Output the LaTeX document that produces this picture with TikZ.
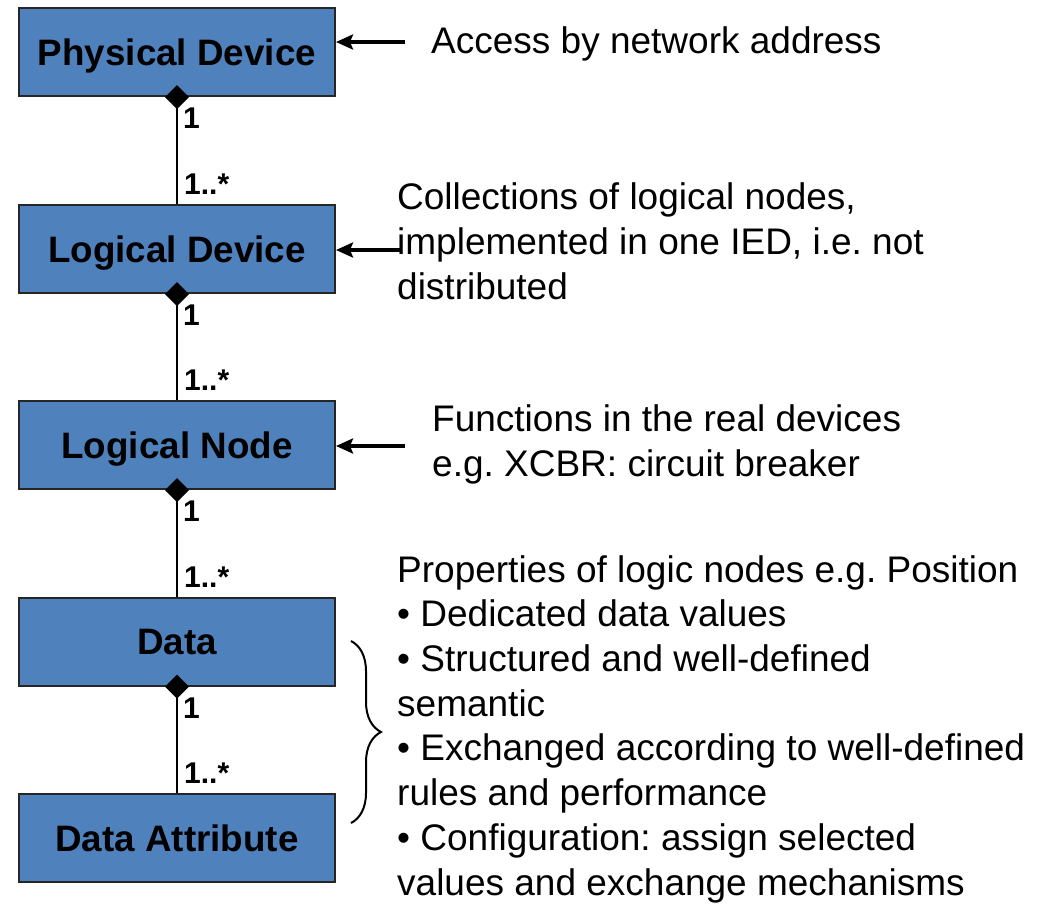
\documentclass[tikz,border=0pt]{standalone}
\usepackage{fontspec}
\setmainfont{Liberation Sans}
\usetikzlibrary{arrows.meta,decorations.pathreplacing}
\definecolor{boxblue}{HTML}{4F81BD}
\frenchspacing
\begin{document}
\begin{tikzpicture}[x=1pt,y=-1pt,
  entity/.style={draw=black!85, line width=2pt, fill=boxblue,
    minimum width=316pt, minimum height=88pt, inner sep=0pt,
    font=\fontsize{36.8}{40}\selectfont\bfseries, text height=26pt, text depth=0pt},
  comp/.style={line width=2.5pt, {Diamond[length=24pt,width=24pt]}-},
  mult/.style={inner sep=0pt, anchor=west, font=\fontsize{30}{32}\selectfont\bfseries,
    text height=21.5pt, text depth=0pt},
  sidearrow/.style={line width=3.3pt, -{Stealth[length=17pt,width=15pt,inset=3pt]}},
  desc/.style={inner sep=0pt, anchor=base west, align=left,
    font=\fontsize{37}{44.7}\selectfont\frenchspacing},
  bracestyle/.style={line width=2pt, decorate, decoration={brace, amplitude=30pt}}]
\useasboundingbox (0,0) rectangle (1042,903);

\node[entity] (pd) at (177,52) {Physical Device};
\node[entity] (ld) at (177,249) {Logical Device};
\node[entity] (ln) at (177,445) {Logical Node};
\node[entity] (da) at (177,641.5) {Data};
\node[entity] (at) at (177,838) {Data Attribute};

\draw[comp] ([yshift=12pt]pd.south) -- (ld.north);
\draw[comp] ([yshift=12pt]ld.south) -- (ln.north);
\draw[comp] ([yshift=12pt]ln.south) -- (da.north);
\draw[comp] ([yshift=12pt]da.south) -- (at.north);

\node[mult] (m1a) at ([xshift=6pt,yshift=-21pt]pd.south) {1};
\node[mult] (m1b) at ([xshift=7pt,yshift=20pt]ld.north) {1..*};
\node[mult] (m2a) at ([xshift=6pt,yshift=-21pt]ld.south) {1};
\node[mult] (m2b) at ([xshift=7pt,yshift=20pt]ln.north) {1..*};
\node[mult] (m3a) at ([xshift=6pt,yshift=-21pt]ln.south) {1};
\node[mult] (m3b) at ([xshift=7pt,yshift=20pt]da.north) {1..*};
\node[mult] (m4a) at ([xshift=6pt,yshift=-21pt]da.south) {1};
\node[mult] (m4b) at ([xshift=7pt,yshift=20pt]at.north) {1..*};

\coordinate (s1) at (405,42);
\coordinate (s2) at (400,250);
\coordinate (s3) at (405,446);
\draw[sidearrow] (s1) -- (s1 -| pd.east);
\draw[sidearrow] (s2) -- (s2 -| ld.east);
\draw[sidearrow] (s3) -- (s3 -| ln.east);

% base anchor of a multi-line node lies on the baseline of its last line
\node[desc] (t1) at (431,53) {Access by network address};
\node[desc] (t2) at (397,299) {Collections of logical nodes,\\implemented in one IED, i.e. not\\distributed};
\node[desc] (t3) at (432,476) {Functions in the real devices\\e.g. XCBR: circuit breaker};
\node[desc] (t4) at (397,895) {Properties of logic nodes e.g. Position\\• Dedicated data values\\• Structured and well-defined\\semantic\\• Exchanged according to well-defined\\rules and performance\\• Configuration: assign selected\\values and exchange mechanisms};

\coordinate (bt) at (351,641);
\coordinate (bb) at (351,823);
\draw[bracestyle] (bt) -- (bb);
\end{tikzpicture}
\end{document}
